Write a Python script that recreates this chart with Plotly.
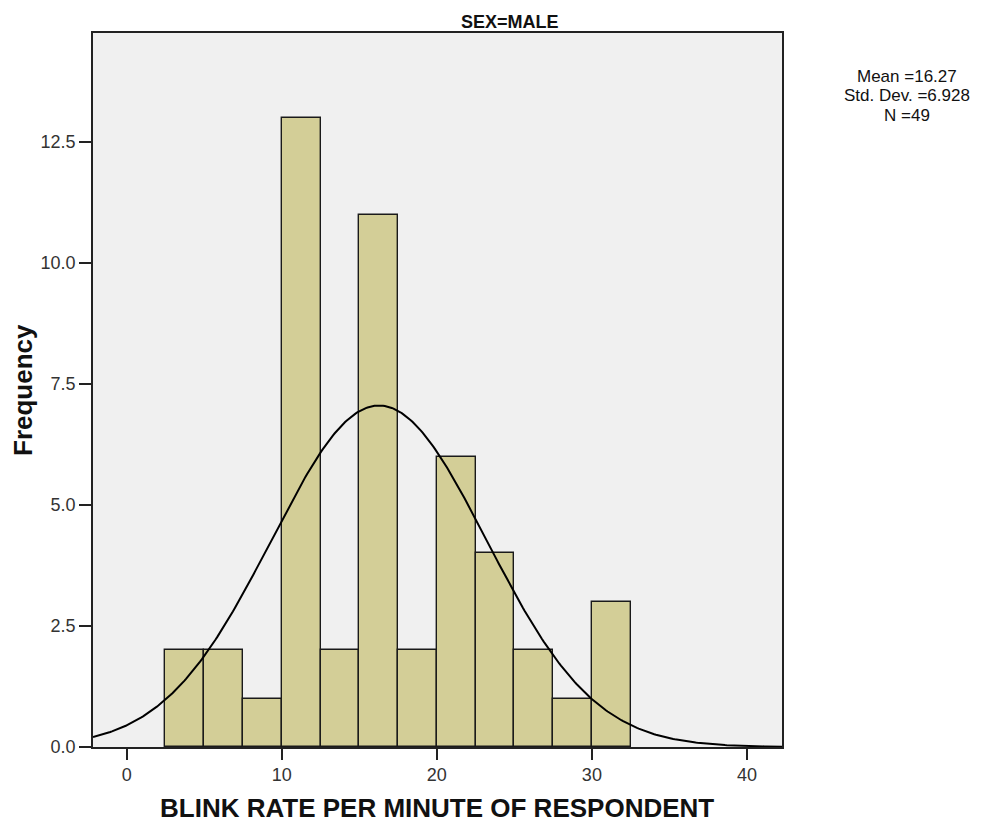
import numpy as np
import plotly.graph_objects as go

# Histogram data
bin_starts = [2.5, 5.0, 7.5, 10.0, 12.5, 15.0, 17.5, 20.0, 22.5, 25.0, 27.5, 30.0]
frequencies = [2, 2, 1, 13, 2, 11, 2, 6, 4, 2, 1, 3]
bin_width = 2.5

# Summary statistics shown in the chart
mean_val = 16.27
std_val = 6.928
n_val = 49

x_ticks = [0, 10, 20, 30, 40]
y_ticks = [0.0, 2.5, 5.0, 7.5, 10.0, 12.5]

centers = [s + bin_width / 2 for s in bin_starts]

# Fitted normal curve scaled to counts
xc = np.linspace(-2.17, 42.26, 400)
yc = n_val * bin_width / (std_val * np.sqrt(2 * np.pi)) * np.exp(-0.5 * ((xc - mean_val) / std_val) ** 2)

W, H = 987, 825
# page offset (body margin) compensation
OFF = 8
ML, MR, MT, MB = 93 - OFF, W - 782 + OFF, 33 - OFF, H - 747 + OFF
PW, PH = W - ML - MR, H - MT - MB


def px_x(x):  # target screen x -> paper coord
    return (x - OFF - ML) / PW


def px_y(y):  # target screen y -> paper coord
    return (H - MB - (y - OFF)) / PH


fig = go.Figure()
fig.add_trace(go.Bar(
    x=centers, y=frequencies, width=bin_width,
    marker=dict(color="#D3CE97", line=dict(color="#1a1a1a", width=1.4)),
    hoverinfo="x+y",
))
fig.add_trace(go.Scatter(
    x=xc, y=yc, mode="lines",
    line=dict(color="black", width=2), hoverinfo="skip",
))

font_family = "Liberation Sans, Arial, sans-serif"

fig.update_layout(
    width=W, height=H,
    margin=dict(l=ML, r=MR, t=MT, b=MB),
    paper_bgcolor="white",
    plot_bgcolor="#F0F0F0",
    showlegend=False,
    bargap=0,
    font=dict(family=font_family, color="#222222"),
    xaxis=dict(
        range=[-2.17, 42.26],
        tickvals=x_ticks,
        ticktext=[str(v) for v in x_ticks],
        ticks="outside", ticklen=11, tickwidth=1.5, tickcolor="#222222",
        showgrid=False, zeroline=False, automargin=False,
        showline=True, linecolor="#222222", linewidth=1.5, mirror=True,
        tickfont=dict(size=18, color="#333333"),
    ),
    yaxis=dict(
        range=[0, 14.75],
        tickvals=y_ticks,
        ticktext=["%.1f" % v for v in y_ticks],
        ticks="outside", ticklen=12, tickwidth=1.5, tickcolor="#222222",
        showgrid=False, zeroline=False, automargin=False,
        showline=True, linecolor="#222222", linewidth=1.5, mirror=True,
        tickfont=dict(size=18, color="#333333"),
    ),
    annotations=[
        dict(text="<b>BLINK RATE PER MINUTE OF RESPONDENT</b>", xref="paper", yref="paper",
             x=px_x(437), y=px_y(808), xanchor="center", yanchor="middle",
             showarrow=False, font=dict(size=26, color="#111111")),
        dict(text="<b>Frequency</b>", xref="paper", yref="paper", textangle=-90,
             x=px_x(23), y=px_y(390), xanchor="center", yanchor="middle",
             showarrow=False, font=dict(size=26, color="#111111")),
        dict(text="<b>SEX=MALE</b>", xref="paper", yref="paper",
             x=px_x(510), y=px_y(22), yanchor="middle", xanchor="center",
             showarrow=False, font=dict(size=18, color="#111111")),
        dict(text="Mean =%.2f" % mean_val, xref="paper", yref="paper",
             x=px_x(907), y=px_y(76), xanchor="center", yanchor="middle",
             showarrow=False, font=dict(size=17, color="#111111")),
        dict(text="Std. Dev. =%.3f" % std_val, xref="paper", yref="paper",
             x=px_x(907), y=px_y(95.5), xanchor="center", yanchor="middle",
             showarrow=False, font=dict(size=17, color="#111111")),
        dict(text="N =%d" % n_val, xref="paper", yref="paper",
             x=px_x(907), y=px_y(115), xanchor="center", yanchor="middle",
             showarrow=False, font=dict(size=17, color="#111111")),
    ],
)

fig.write_html("out.html")
